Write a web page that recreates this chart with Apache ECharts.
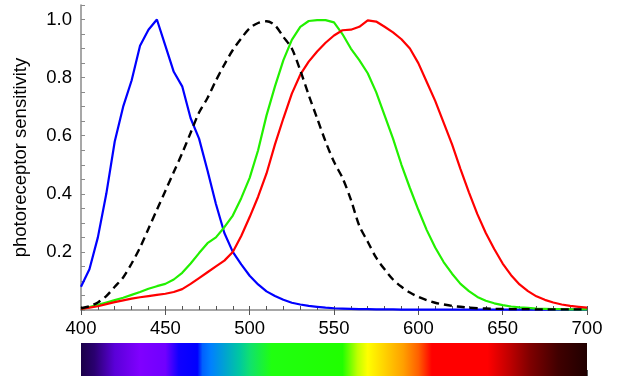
<!DOCTYPE html>
<html>
<head>
<meta charset="utf-8">
<script src="https://cdn.jsdelivr.net/npm/echarts@6/dist/echarts.min.js"></script>
<style>html,body{margin:0;padding:0;background:#fff}#c{width:624px;height:386px}</style>
</head>
<body>
<div id="c"></div>
<script>
const wavelengths = [400,405,410,415,420,425,430,435,440,445,450,455,460,465,470,475,480,485,490,495,500,505,510,515,520,525,530,535,540,545,550,555,560,565,570,575,580,585,590,595,600,605,610,615,620,625,630,635,640,645,650,655,660,665,670,675,680,685,690,695,700];
const sCone = [0.08,0.14,0.25,0.40,0.58,0.70,0.79,0.91,0.965,1.0,0.91,0.82,0.77,0.66,0.59,0.48,0.365,0.265,0.20,0.157,0.118,0.088,0.064,0.048,0.035,0.025,0.019,0.014,0.011,0.008,0.006,0.005,0.004,0.003,0.003,0.002,0.002,0.002,0.001,0.001,0.001,0.001,0.001,0.001,0.001,0.001,0.001,0.001,0.001,0.001,0.001,0.001,0.001,0.001,0.001,0.001,0.001,0.001,0.001,0.001,0.001];
const rod = [0.006,0.013,0.026,0.048,0.08,0.112,0.16,0.215,0.28,0.345,0.41,0.475,0.54,0.61,0.68,0.73,0.79,0.845,0.895,0.935,0.97,0.988,0.994,0.98,0.94,0.9,0.825,0.74,0.66,0.58,0.51,0.455,0.38,0.29,0.235,0.18,0.14,0.105,0.08,0.06,0.045,0.034,0.025,0.019,0.014,0.011,0.008,0.006,0.005,0.004,0.004,0.003,0.003,0.003,0.002,0.002,0.002,0.002,0.002,0.002,0.002];
const mCone = [0.004,0.01,0.018,0.026,0.034,0.042,0.052,0.062,0.073,0.082,0.09,0.105,0.128,0.16,0.196,0.23,0.25,0.285,0.325,0.385,0.455,0.55,0.67,0.77,0.86,0.93,0.975,0.995,0.998,0.998,0.99,0.95,0.90,0.86,0.815,0.75,0.67,0.59,0.50,0.42,0.345,0.275,0.215,0.165,0.125,0.09,0.065,0.045,0.032,0.023,0.017,0.012,0.009,0.007,0.005,0.004,0.003,0.003,0.002,0.002,0.002];
const lCone = [0.004,0.008,0.013,0.02,0.027,0.033,0.039,0.044,0.048,0.052,0.056,0.062,0.072,0.09,0.11,0.13,0.15,0.17,0.2,0.255,0.32,0.39,0.47,0.57,0.66,0.745,0.81,0.855,0.89,0.92,0.945,0.963,0.965,0.975,0.997,0.993,0.975,0.956,0.932,0.9,0.85,0.785,0.72,0.645,0.57,0.485,0.405,0.33,0.265,0.21,0.16,0.12,0.088,0.065,0.047,0.035,0.026,0.019,0.014,0.011,0.008];
const xTicks = [400,450,500,550,600,650,700];
const yTicks = [0.2,0.4,0.6,0.8,1.0];
const yName = 'photoreceptor sensitivity';
const spectrum = [
  [400,'#1a0048'],[408,'#2a0070'],[420,'#5a00d8'],[435,'#8000ff'],[450,'#7000ff'],[458,'#1000ff'],[469,'#0000ff'],
  [472,'#0060ff'],[477,'#0080ff'],[494,'#00c8a0'],[500,'#10e070'],[513,'#20ff10'],[555,'#20ff00'],[564,'#c0ff00'],
  [570,'#ffff00'],[591,'#ffa000'],[600,'#ff6000'],[608,'#ff0000'],[641,'#ff0000'],[654,'#c00000'],[666,'#800000'],
  [683,'#400000'],[700,'#200000']
];

const pairs = arr => wavelengths.map((w,i)=>[w,arr[i]]);
const FONT = 'Liberation Sans, Arial, sans-serif';
const axisGray = '#8a8a8a';
const chart = echarts.init(document.getElementById('c'), null, {renderer:'canvas'});
const sMin = spectrum[0][0], sMax = spectrum[spectrum.length-1][0];

chart.setOption({
  animation:false,
  backgroundColor:'#fff',
  grid:[
    {left:81, right:37, top:5, bottom:76},
    {left:81, right:37, top:343, height:33}
  ],
  xAxis:[
    {type:'value', gridIndex:0, min:400, max:700, interval:10, position:'bottom',
     axisLine:{show:true, lineStyle:{color:axisGray, width:1.5}},
     axisTick:{show:true, inside:true, length:4, lineStyle:{color:'#555'}},
     axisLabel:{show:false}, splitLine:{show:false}},
    {type:'value', gridIndex:0, min:400, max:700, interval:50, position:'bottom',
     axisLine:{show:false},
     axisTick:{show:true, inside:false, length:5, lineStyle:{color:'#555'}},
     axisLabel:{show:true, margin:9, color:'#000', fontSize:18.5, fontFamily:FONT,
       formatter:v=> xTicks.indexOf(v)>=0 ? String(v) : ''},
     splitLine:{show:false}},
    {type:'value', gridIndex:1, min:sMin, max:sMax, interval:50, position:'top',
     axisLine:{show:false},
     axisTick:{show:true, inside:false, length:6, lineStyle:{color:'#555'}},
     axisLabel:{show:false}, splitLine:{show:false}}
  ],
  yAxis:[
    {type:'value', gridIndex:0, min:0, max:1.05, interval:0.05,
     name:yName, nameLocation:'middle', nameGap:51, nameRotate:90,
     nameTextStyle:{color:'#000', fontSize:18.5, fontFamily:FONT},
     axisLine:{show:true, lineStyle:{color:axisGray, width:1.5}},
     axisTick:{show:true, inside:true, length:4, lineStyle:{color:axisGray}},
     axisLabel:{show:true, margin:9, color:'#000', fontSize:18.5, fontFamily:FONT,
       formatter:v=>{const r=Math.round(v*100)/100; return yTicks.some(t=>Math.abs(t-r)<1e-6) ? r.toFixed(1) : '';}},
     splitLine:{show:false}},
    {type:'value', gridIndex:1, min:0, max:1, show:false}
  ],
  series:[
    {type:'line', name:'S', xAxisIndex:0, yAxisIndex:0, data:pairs(sCone), showSymbol:false, symbol:'none',
     lineStyle:{color:'#0000ff', width:2.2}},
    {type:'line', name:'M', xAxisIndex:0, yAxisIndex:0, data:pairs(mCone), showSymbol:false, symbol:'none',
     lineStyle:{color:'#22f000', width:2.2}},
    {type:'line', name:'L', xAxisIndex:0, yAxisIndex:0, data:pairs(lCone), showSymbol:false, symbol:'none',
     lineStyle:{color:'#ff0000', width:2.2}},
    {type:'line', name:'rod', xAxisIndex:0, yAxisIndex:0, data:pairs(rod), showSymbol:false, symbol:'none', smooth:0.3,
     lineStyle:{color:'#000', width:2.4, type:[8,5]}},
    {type:'custom', xAxisIndex:2, yAxisIndex:1, data:[[sMin, sMax]],
     renderItem:(params, api)=>{
       const a = api.coord([api.value(0), 1]);
       const b = api.coord([api.value(1), 0]);
       const span = sMax - sMin;
       const stops = spectrum.map(s=>({offset:(s[0]-sMin)/span, color:s[1]}));
       return {type:'rect', shape:{x:a[0], y:a[1], width:b[0]-a[0], height:b[1]-a[1]},
         style:{fill:new echarts.graphic.LinearGradient(0,0,1,0,stops)}};
     }}
  ]
});
</script>
</body>
</html>
